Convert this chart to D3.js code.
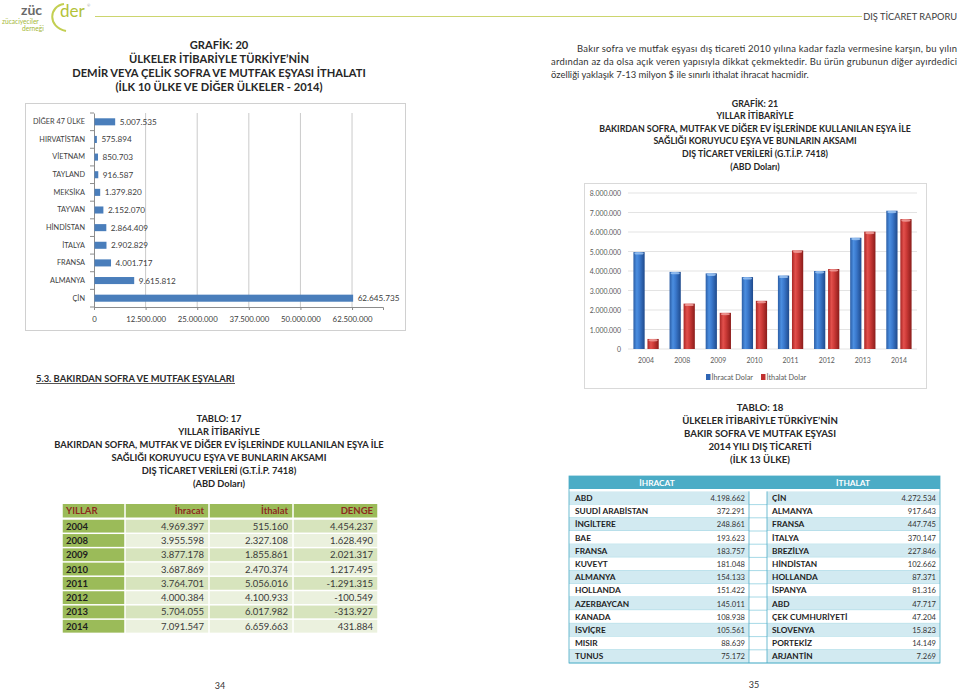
<!DOCTYPE html>
<html><head><meta charset="utf-8">
<script src="https://cdn.jsdelivr.net/npm/d3@7"></script>
<style>
html,body{margin:0;padding:0;background:#fff;}
svg{display:block;font-family:Lato,"Open Sans",sans-serif;}
</style></head>
<body>
<svg id="page" width="960" height="689"></svg>
<script>
// ---------- DATA ----------
const g20Countries = ["DİĞER 47 ÜLKE","HIRVATİSTAN","VİETNAM","TAYLAND","MEKSİKA","TAYVAN","HİNDİSTAN","İTALYA","FRANSA","ALMANYA","ÇİN"];
const g20Values = [5007535,575894,850703,916587,1379820,2152070,2864409,2902829,4001717,9615812,62645735];
const g20Ticks = [0,12500000,25000000,37500000,50000000,62500000];

const years = ["2004","2008","2009","2010","2011","2012","2013","2014"];
const ihracat = [4969397,3955598,3877178,3687869,3764701,4000384,5704055,7091547];
const ithalat = [515160,2327108,1855861,2470374,5056016,4100933,6017982,6659663];
const denge = [4454237,1628490,2021317,1217495,-1291315,-100549,-313927,431884];
const g21Ticks = [0,1000000,2000000,3000000,4000000,5000000,6000000,7000000,8000000];
const g21Series = ["İhracat Dolar","İthalat Dolar"];

const t17Headers = ["YILLAR","İhracat","İthalat","DENGE"];

const t18ExpCountries = ["ABD","SUUDİ ARABİSTAN","İNGİLTERE","BAE","FRANSA","KUVEYT","ALMANYA","HOLLANDA","AZERBAYCAN","KANADA","İSVİÇRE","MISIR","TUNUS"];
const t18ExpValues = [4198662,372291,248861,193623,183757,181048,154133,151422,145011,108938,105561,88639,75172];
const t18ImpCountries = ["ÇİN","ALMANYA","FRANSA","İTALYA","BREZİLYA","HİNDİSTAN","HOLLANDA","İSPANYA","ABD","ÇEK CUMHURİYETİ","SLOVENYA","PORTEKİZ","ARJANTİN"];
const t18ImpValues = [4272534,917643,447745,370147,227846,102662,87371,81316,47717,47204,15823,14149,7269];

const g20Title = ["GRAFİK: 20","ÜLKELER İTİBARİYLE TÜRKİYE’NİN","DEMİR VEYA ÇELİK SOFRA VE MUTFAK EŞYASI İTHALATI","(İLK 10 ÜLKE VE DİĞER ÜLKELER - 2014)"];
const g21Title = ["GRAFİK: 21","YILLAR İTİBARİYLE","BAKIRDAN SOFRA, MUTFAK VE DİĞER EV İŞLERİNDE KULLANILAN EŞYA İLE","SAĞLIĞI KORUYUCU EŞYA VE BUNLARIN AKSAMI","DIŞ TİCARET VERİLERİ (G.T.İ.P. 7418)","(ABD Doları)"];
const t17Title = ["TABLO: 17","YILLAR İTİBARİYLE","BAKIRDAN SOFRA, MUTFAK VE DİĞER EV İŞLERİNDE KULLANILAN EŞYA İLE","SAĞLIĞI KORUYUCU EŞYA VE BUNLARIN AKSAMI","DIŞ TİCARET VERİLERİ (G.T.İ.P. 7418)","(ABD Doları)"];
const t18Title = ["TABLO: 18","ÜLKELER İTİBARİYLE TÜRKİYE’NİN","BAKIR SOFRA VE MUTFAK EŞYASI","2014 YILI DIŞ TİCARETİ","(İLK 13 ÜLKE)"];
const paragraph = ["Bakır sofra ve mutfak eşyası dış ticareti 2010 yılına kadar fazla vermesine karşın, bu yılın",
  "ardından az da olsa açık veren yapısıyla dikkat çekmektedir. Bu ürün grubunun diğer ayırdedici",
  "özelliği yaklaşık 7-13 milyon $ ile sınırlı ithalat ihracat hacmidir."];

// ---------- HELPERS ----------
const loc = d3.formatLocale({decimal:",",thousands:".",grouping:[3],currency:["",""],minus:"-"});
const fmt = loc.format(",d");
const svg = d3.select("#page");

function textBlock(lines, o){
  const g = svg.append("g");
  const t = g.selectAll("text").data(lines).join("text")
    .attr("x", o.x).attr("y",(d,i)=>o.y + i*o.dy)
    .attr("text-anchor", o.anchor||"middle").attr("dominant-baseline","central")
    .attr("font-weight", o.weight||700).attr("fill", o.fill||"#262626")
    .attr("font-size",10).text(d=>d);
  const len = t.nodes()[o.ref].getComputedTextLength();
  t.attr("font-size", 10*o.refWidth/len);
  return g;
}

// ---------- HEADER ----------
const logo = svg.append("g");
logo.append("text").attr("x",21).attr("y",15).attr("font-size",14).attr("font-weight",700).attr("fill","#6a6a6a").text("züc");
logo.append("path").attr("d","M64,4 C49,6 47,27 66,31").attr("fill","none").attr("stroke","#c3cf52").attr("stroke-width",2);
logo.append("text").attr("x",60).attr("y",17).attr("font-size",17).attr("fill","#b3c23a").text("der");
logo.append("text").attr("x",87).attr("y",7).attr("font-size",4).attr("fill","#999").text("®");
logo.append("text").attr("x",2).attr("y",24).attr("font-size",6.6).attr("fill","#a5b838").text("zücaciyeciler");
logo.append("text").attr("x",22).attr("y",31).attr("font-size",6.6).attr("fill","#a5b838").text("derneği");
svg.append("line").attr("x1",95).attr("x2",862).attr("y1",16.5).attr("y2",16.5).attr("stroke","#ccd56e").attr("stroke-width",1.2);
textBlock(["DIŞ TİCARET RAPORU"],{x:957,y:16,dy:0,anchor:"end",weight:400,fill:"#3c3c3c",ref:0,refWidth:94});

// ---------- GRAFIK 20 ----------
textBlock(g20Title,{x:219,y:44,dy:14.3,ref:2,refWidth:294});
svg.append("rect").attr("x",25.5).attr("y",103.5).attr("width",380).attr("height",227).attr("fill","none").attr("stroke","#d0d0d0");
const x20 = d3.scaleLinear().domain([0,70000000]).range([94,383]);
const y20 = d3.scaleBand().domain(g20Countries).range([113,307]).paddingInner(0.6).paddingOuter(0.3);
const c20 = svg.append("g");
c20.selectAll("line.grid").data(g20Ticks.slice(1)).join("line").attr("class","grid")
  .attr("x1",d=>x20(d)).attr("x2",d=>x20(d)).attr("y1",113).attr("y2",307).attr("stroke","#bdbdbd").attr("stroke-width",0.8);
c20.append("g").attr("transform","translate(0,307)")
  .call(d3.axisBottom(x20).tickValues(g20Ticks).tickFormat(fmt).tickSize(3).tickPadding(6))
  .call(a=>{a.select(".domain").attr("stroke","#8c8c8c");a.selectAll("line").attr("stroke","#8c8c8c");
    a.selectAll("text").attr("font-size",7.8).attr("fill","#404040").attr("font-family","Lato");});
c20.append("g").attr("transform","translate(94,0)")
  .call(d3.axisLeft(y20).tickSize(0).tickPadding(9))
  .call(a=>{a.select(".domain").attr("stroke","#8c8c8c");
    a.selectAll("text").attr("font-size",7.3).attr("fill","#404040").attr("font-family","Lato");});
c20.selectAll("line.yt").data(d3.range(g20Countries.length+1)).join("line").attr("class","yt")
  .attr("x1",90).attr("x2",94).attr("y1",i=>113+i*y20.step()).attr("y2",i=>113+i*y20.step()).attr("stroke","#8c8c8c");
c20.selectAll("rect.bar").data(g20Countries).join("rect").attr("class","bar")
  .attr("x",x20(0)+0.5).attr("y",d=>y20(d)).attr("height",y20.bandwidth())
  .attr("width",(d,i)=>x20(g20Values[i])-x20(0)).attr("fill","#4a7ebb");
c20.selectAll("text.val").data(g20Countries).join("text").attr("class","val")
  .attr("x",(d,i)=>x20(g20Values[i])+5).attr("y",d=>y20(d)+y20.bandwidth()/2).attr("dominant-baseline","central")
  .attr("font-size",8.2).attr("fill","#404040").text((d,i)=>fmt(g20Values[i]));

// ---------- PARAGRAPH ----------
const pg = svg.append("g").attr("fill","#333").attr("font-size",9);
const pl = pg.selectAll("text").data(paragraph).join("text")
  .attr("x",(d,i)=>i===0?577:551).attr("y",(d,i)=>48+i*13).attr("dominant-baseline","central").text(d=>d);
const l3 = pl.nodes()[2].getComputedTextLength();
pg.attr("font-size",9*258/l3);
pl.filter((d,i)=>i<2).attr("textLength",(d,i)=>i===0?380:406).attr("lengthAdjust","spacing");

// ---------- GRAFIK 21 ----------
textBlock(g21Title,{x:755,y:103,dy:12.6,ref:2,refWidth:312});
svg.append("rect").attr("x",584.5).attr("y",183.5).attr("width",342).attr("height",205).attr("fill","none").attr("stroke","#d9d9d9");
const defs = svg.append("defs");
function grad(id, stops){
  const g = defs.append("linearGradient").attr("id",id).attr("x1","0").attr("x2","1").attr("y1","0").attr("y2","0");
  stops.forEach(s=>g.append("stop").attr("offset",s[0]).attr("stop-color",s[1]));
}
grad("gBlue",[[0,"#2b5ea6"],[0.3,"#4b8ee0"],[0.55,"#3a78cc"],[1,"#1f4a8c"]]);
grad("gRed",[[0,"#a82624"],[0.3,"#e2504c"],[0.55,"#cc3a37"],[1,"#8a1c1a"]]);
const y21 = d3.scaleLinear().domain([0,8000000]).range([349,193]);
const x21 = d3.scaleBand().domain(years).range([628,917]).paddingInner(0.3).paddingOuter(0.15);
const xs = d3.scaleBand().domain(g21Series).range([0,x21.bandwidth()]).paddingInner(0.2);
const c21 = svg.append("g");
c21.selectAll("line.grid").data(g21Ticks).join("line").attr("class","grid")
  .attr("x1",628).attr("x2",917).attr("y1",d=>y21(d)).attr("y2",d=>y21(d)).attr("stroke","#e3e3e3");
c21.selectAll("text.yl").data(g21Ticks).join("text").attr("class","yl")
  .attr("x",621).attr("y",d=>y21(d)).attr("text-anchor","end").attr("dominant-baseline","central")
  .attr("font-size",6.9).attr("fill","#595959").text(d=>fmt(d));
c21.selectAll("text.xl").data(years).join("text").attr("class","xl")
  .attr("x",d=>x21(d)+x21.bandwidth()/2).attr("y",360).attr("text-anchor","middle").attr("dominant-baseline","central")
  .attr("font-size",6.9).attr("fill","#595959").text(d=>d);
const series21 = [ihracat, ithalat];
const fills = ["url(#gBlue)","url(#gRed)"];
const caps = ["#9cc4f2","#f0a09c"];
g21Series.forEach((s,si)=>{
  const gg = c21.append("g");
  gg.selectAll("rect").data(years).join("rect")
    .attr("x",d=>x21(d)+xs(s)).attr("width",xs.bandwidth())
    .attr("y",(d,i)=>y21(series21[si][i])).attr("height",(d,i)=>y21(0)-y21(series21[si][i]))
    .attr("fill",fills[si]);
  gg.selectAll("ellipse").data(years).join("ellipse")
    .attr("cx",d=>x21(d)+xs(s)+xs.bandwidth()/2).attr("cy",(d,i)=>y21(series21[si][i])+1.3)
    .attr("rx",xs.bandwidth()/2-1).attr("ry",1.2).attr("fill",caps[si]).attr("opacity",0.85);
});
const leg = c21.append("g");
const legX = [706,761];
g21Series.forEach((s,i)=>{
  leg.append("rect").attr("x",legX[i]).attr("y",374).attr("width",4.5).attr("height",6).attr("fill",i?"#c0302e":"#2f65b4");
  leg.append("text").attr("x",legX[i]+5.5).attr("y",377).attr("dominant-baseline","central").attr("font-size",7.3).attr("fill","#595959").text(s);
});

// ---------- SECTION HEADING ----------
textBlock(["5.3. BAKIRDAN SOFRA VE MUTFAK EŞYALARI"],{x:36,y:378,dy:0,anchor:"start",ref:0,refWidth:199,fill:"#2b2b2b"});
svg.append("line").attr("x1",36).attr("x2",235).attr("y1",383.5).attr("y2",383.5).attr("stroke","#2b2b2b").attr("stroke-width",0.8);

// ---------- TABLO 17 ----------
textBlock(t17Title,{x:219,y:418,dy:13.1,ref:2,refWidth:330});
const colX = [62,125,209,293,378];
const t17 = svg.append("g");
const hdrY = 504, hdrH = 13.5, rowY0 = 519, rowH = 14.3;
t17Headers.forEach((h,i)=>{
  t17.append("rect").attr("x",colX[i]+0.75).attr("y",hdrY).attr("width",colX[i+1]-colX[i]-1.5).attr("height",hdrH).attr("fill","#9bbb59");
  t17.append("text").attr("x",i===0?colX[0]+4:colX[i+1]-5).attr("y",hdrY+hdrH/2).attr("dominant-baseline","central")
    .attr("text-anchor",i===0?"start":"end").attr("font-size",9.5).attr("font-weight",700).attr("fill","#8e2a1e").text(h);
});
years.forEach((yr,r)=>{
  const y = rowY0 + r*rowH;
  const vals = [ihracat[r], ithalat[r], denge[r]];
  t17.append("rect").attr("x",colX[0]+0.75).attr("y",y+0.75).attr("width",colX[1]-colX[0]-1.5).attr("height",rowH-1.5).attr("fill","#9bbb59");
  t17.append("text").attr("x",colX[0]+4).attr("y",y+rowH/2).attr("dominant-baseline","central")
    .attr("font-size",9.5).attr("font-weight",700).attr("fill","#1e1e1e").text(yr);
  vals.forEach((v,c)=>{
    t17.append("rect").attr("x",colX[c+1]+0.75).attr("y",y+0.75).attr("width",colX[c+2]-colX[c+1]-1.5).attr("height",rowH-1.5)
      .attr("fill", r%2===0 ? "#d7e4bd" : "#ebf1de");
    t17.append("text").attr("x",colX[c+2]-5).attr("y",y+rowH/2).attr("dominant-baseline","central").attr("text-anchor","end")
      .attr("font-size",9.5).attr("fill","#3a3a3a").text(fmt(v));
  });
});

// ---------- TABLO 18 ----------
textBlock(t18Title,{x:760,y:407,dy:13,ref:1,refWidth:156});
const t18 = svg.append("g");
const tx = {l0:569,l1:749,r0:767,r1:940};
const h18Y = 476, h18H = 13, r18Y0 = 491.4, r18H = 13.2;
t18.append("rect").attr("x",tx.l0).attr("y",h18Y).attr("width",tx.r1-tx.l0).attr("height",h18H).attr("fill","#4bacc6");
t18.append("text").attr("x",657).attr("y",h18Y+h18H/2).attr("text-anchor","middle").attr("dominant-baseline","central")
  .attr("font-size",8.3).attr("font-weight",700).attr("fill","#fff").text("İHRACAT");
t18.append("text").attr("x",853).attr("y",h18Y+h18H/2).attr("text-anchor","middle").attr("dominant-baseline","central")
  .attr("font-size",8.3).attr("font-weight",700).attr("fill","#fff").text("İTHALAT");
t18ExpCountries.forEach((c,r)=>{
  const y = r18Y0 + r*r18H;
  const fill = r%2===0 ? "#d2eaf1" : "#ffffff";
  t18.append("rect").attr("x",tx.l0).attr("y",y).attr("width",tx.l1-tx.l0).attr("height",r18H).attr("fill",fill);
  t18.append("rect").attr("x",tx.r0).attr("y",y).attr("width",tx.r1-tx.r0).attr("height",r18H).attr("fill",fill);
  t18.append("line").attr("x1",tx.l0).attr("x2",tx.r1).attr("y1",y+r18H).attr("y2",y+r18H).attr("stroke","#8fcfe0").attr("stroke-width",0.8);
  t18.append("text").attr("x",tx.l0+6).attr("y",y+r18H/2).attr("dominant-baseline","central").attr("font-size",8.3).attr("font-weight",700).attr("fill","#1e1e1e").text(c);
  t18.append("text").attr("x",tx.l1-4).attr("y",y+r18H/2).attr("dominant-baseline","central").attr("text-anchor","end").attr("font-size",7.6).attr("fill","#333").text(fmt(t18ExpValues[r]));
  t18.append("text").attr("x",tx.r0+5).attr("y",y+r18H/2).attr("dominant-baseline","central").attr("font-size",8.3).attr("font-weight",700).attr("fill","#1e1e1e").text(t18ImpCountries[r]);
  t18.append("text").attr("x",tx.r1-4).attr("y",y+r18H/2).attr("dominant-baseline","central").attr("text-anchor","end").attr("font-size",7.6).attr("fill","#333").text(fmt(t18ImpValues[r]));
});
const tb = r18Y0 + t18ExpCountries.length*r18H;
[tx.l1, tx.r0].forEach(x=>t18.append("line").attr("x1",x).attr("x2",x).attr("y1",r18Y0).attr("y2",tb).attr("stroke","#4bacc6").attr("stroke-width",0.8));
t18.append("rect").attr("x",tx.l0).attr("y",h18Y).attr("width",tx.r1-tx.l0).attr("height",tb-h18Y).attr("fill","none").attr("stroke","#4bacc6").attr("stroke-width",0.8);

// ---------- PAGE NUMBERS ----------
svg.append("text").attr("x",220).attr("y",685).attr("text-anchor","middle").attr("dominant-baseline","central").attr("font-size",9).attr("fill","#333").text("34");
svg.append("text").attr("x",754).attr("y",684).attr("text-anchor","middle").attr("dominant-baseline","central").attr("font-size",9).attr("fill","#333").text("35");
</script>
</body></html>
